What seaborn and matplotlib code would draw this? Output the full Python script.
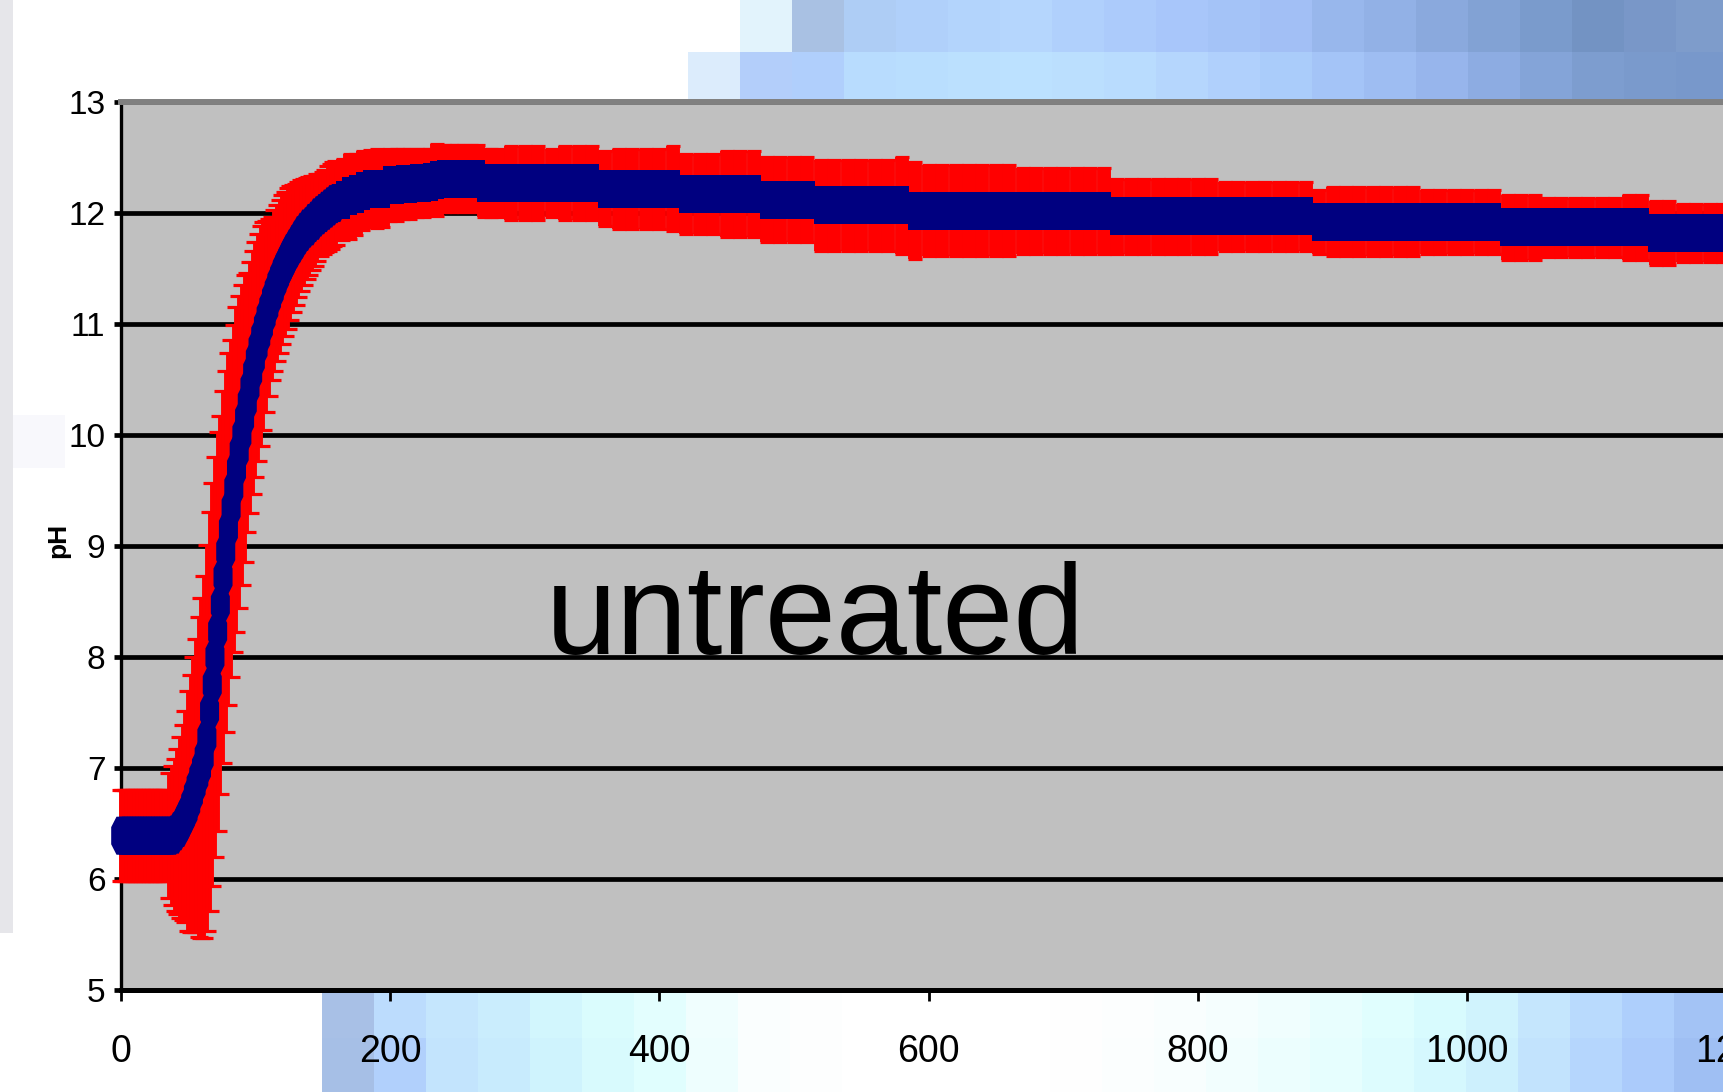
import numpy as np
import pandas as pd
import matplotlib
matplotlib.use("Agg")
import matplotlib.pyplot as plt
import matplotlib.colors as mcolors
from matplotlib.markers import MarkerStyle
from matplotlib.path import Path
from matplotlib.patches import Rectangle
import seaborn as sns

# ---------------- data ----------------
t_rise = list(range(0, 162, 2))
ph_rise = [6.39, 6.39, 6.39, 6.39, 6.39, 6.39, 6.39, 6.39, 6.39, 6.39,
           6.39, 6.39, 6.39, 6.39, 6.39, 6.39, 6.39, 6.39,
           6.39, 6.39, 6.40, 6.43, 6.46, 6.51, 6.56, 6.61, 6.68, 6.76,
           6.84, 6.92, 7.00, 7.10, 7.27, 7.51, 7.75, 8.00, 8.23, 8.47,
           8.72, 8.95, 9.15, 9.34, 9.52, 9.69, 9.85, 10.00, 10.15, 10.29,
           10.43, 10.56, 10.68, 10.79, 10.89, 10.98, 11.07, 11.15, 11.23, 11.30,
           11.37, 11.43, 11.49, 11.54, 11.59, 11.64, 11.68, 11.72, 11.76, 11.80,
           11.83, 11.86, 11.88, 11.91, 11.93, 11.96, 11.98, 12.00, 12.02, 12.04,
           12.06, 12.08, 12.09]
sd_rise = [0.41, 0.41, 0.41, 0.41, 0.41, 0.41, 0.41, 0.41, 0.41, 0.41,
           0.41, 0.41, 0.41, 0.41, 0.41, 0.41, 0.41, 0.41,
           0.565, 0.625, 0.685, 0.745, 0.815, 0.88, 0.95, 1.08, 1.16, 1.24,
           1.32, 1.44, 1.53, 1.63, 1.74, 1.80, 1.815, 1.805, 1.80, 1.70,
           1.675, 1.63, 1.585, 1.52, 1.475, 1.465, 1.405, 1.355, 1.295, 1.165,
           1.13, 1.095, 1.06, 1.025, 0.99, 0.935, 0.86, 0.795, 0.735, 0.725,
           0.705, 0.69, 0.67, 0.65, 0.635, 0.605, 0.575, 0.545, 0.52, 0.50,
           0.475, 0.455, 0.44, 0.42, 0.405, 0.39, 0.37, 0.37, 0.37, 0.38,
           0.385, 0.38, 0.375]

t_plat = list(range(165, 285, 5)) + list(range(290, 1210, 10))
ph_plat = [12.12, 12.15, 12.17, 12.20, 12.22, 12.22, 12.22, 12.25, 12.25, 12.26,
           12.26, 12.27, 12.27, 12.28, 12.30, 12.31, 12.31, 12.31, 12.31, 12.31,
           12.31, 12.27, 12.27, 12.27,
           12.27, 12.27, 12.27, 12.27, 12.27, 12.27, 12.27,
           12.22, 12.22, 12.22, 12.22, 12.22, 12.22,
           12.17, 12.17, 12.17, 12.17, 12.17, 12.17,
           12.12, 12.12, 12.12, 12.12,
           12.07, 12.07, 12.07, 12.07, 12.07, 12.07, 12.07,
           12.02, 12.02, 12.02, 12.02, 12.02, 12.02, 12.02, 12.02, 12.02, 12.02,
           12.02, 12.02, 12.02, 12.02, 12.02,
           11.97, 11.97, 11.97, 11.97, 11.97, 11.97, 11.97, 11.97, 11.97, 11.97,
           11.97, 11.97, 11.97, 11.97, 11.97,
           11.92, 11.92, 11.92, 11.92, 11.92, 11.92, 11.92, 11.92, 11.92, 11.92,
           11.92, 11.92, 11.92, 11.92,
           11.87, 11.87, 11.87, 11.87, 11.87, 11.87, 11.87, 11.87, 11.87, 11.87,
           11.87,
           11.82, 11.82, 11.82, 11.82, 11.82, 11.82, 11.82]
sd_plat = [0.365, 0.38, 0.365, 0.355, 0.345, 0.355, 0.345, 0.325, 0.325, 0.315,
           0.315, 0.305, 0.305, 0.295, 0.325, 0.305, 0.305, 0.305, 0.305, 0.305,
           0.305, 0.305, 0.305, 0.305,
           0.335, 0.335, 0.335, 0.31, 0.335, 0.335, 0.335,
           0.335, 0.36, 0.36, 0.36, 0.36, 0.385,
           0.36, 0.36, 0.36, 0.385, 0.385, 0.385,
           0.385, 0.385, 0.385, 0.385,
           0.41, 0.41, 0.41, 0.41, 0.41, 0.41, 0.435,
           0.435, 0.41, 0.41, 0.41, 0.41, 0.41, 0.41, 0.41, 0.385, 0.385,
           0.385, 0.385, 0.385, 0.385, 0.385,
           0.335, 0.335, 0.335, 0.335, 0.335, 0.335, 0.335, 0.335, 0.31, 0.31,
           0.31, 0.31, 0.31, 0.31, 0.31,
           0.285, 0.31, 0.31, 0.31, 0.31, 0.31, 0.31, 0.31, 0.29, 0.29,
           0.29, 0.29, 0.29, 0.29,
           0.29, 0.29, 0.29, 0.265, 0.265, 0.265, 0.265, 0.265, 0.265, 0.29,
           0.29,
           0.29, 0.29, 0.265, 0.265, 0.265, 0.265, 0.265]

x_ticks = [0, 200, 400, 600, 800, 1000, 1200]
y_ticks = [5, 6, 7, 8, 9, 10, 11, 12, 13]
annotation = "untreated"
y_title = "pH"

# decorative slide-background tiles
top_row1 = ["#ffffff", "#e2f3fc", "#a9c1e3", "#aecdf5", "#b0d0fa", "#b3d4fc", "#b5d6fd",
            "#b0d0fc", "#accbfb", "#a8c6fa", "#a4c3f7", "#a2bff5", "#98b7ec", "#92b1e6",
            "#8aa9dd", "#82a2d4", "#7a9bcc", "#7393c3", "#7997c8", "#7e9ccb"]
top_row2 = ["#dcecfc", "#b3cefa", "#b0cffc", "#b8dcfe", "#b9defe", "#bbe0fe", "#bce1ff",
            "#bbdffe", "#b9dcfe", "#b5d6fd", "#b0d0fc", "#aaccfa", "#a4c4f7", "#9ebdf2",
            "#97b5ec", "#8dace2", "#84a4d8", "#7d9dcf", "#7a9acc", "#7898cb"]
bot_row1 = ["#a8c0e6", "#bcdcfd", "#c5e6fd", "#caedfd", "#d2f6fd", "#dafcfd", "#e3fefe",
            "#f0fefe", "#fafefe", "#fdfefe", "#ffffff", "#ffffff", "#ffffff", "#ffffff",
            "#fefefe", "#fcfefe", "#f9fefe", "#f5fefe", "#f0fefe", "#e8fefe", "#e0fefe",
            "#d8fbfe", "#d0f3fd", "#c5e6fd", "#b9dafd", "#aecffc", "#a3c3f5"]
bot_row2 = ["#a6bfe6", "#b1d0fc", "#c3e4fd", "#c8ebfd", "#cff3fd", "#d8fafd", "#e0fefe",
            "#eefefe", "#fafefe", "#fdfefe", "#ffffff", "#ffffff", "#ffffff", "#ffffff",
            "#fefefe", "#fbfefe", "#f8fefe", "#f2fefe", "#ecfefe", "#e6fefe", "#ddfcfe",
            "#d5f8fe", "#cdf0fd", "#c2e3fd", "#b5d6fd", "#abcbfb", "#9fbff3"]

# ---------------- styling ----------------
sns.set_theme(style="white")
plt.rcParams["font.family"] = ["Liberation Sans", "DejaVu Sans"]
NARROW = ["Liberation Sans Narrow", "Liberation Sans", "DejaVu Sans"]

W, H = 1723, 1092
fig = plt.figure(figsize=(W / 100, H / 100), dpi=100, facecolor="white")

# background layer (pixel coordinates)
bg = fig.add_axes([0, 0, 1, 1], zorder=-10)
bg.axis("off")


def tile_row(colors, x0, y0, y1, cw=52):
    rgba = np.array([[mcolors.to_rgba(c) for c in colors]])
    bg.imshow(rgba, extent=(x0, x0 + cw * len(colors), y1, y0),
              interpolation="nearest", aspect="auto")


tile_row(top_row1, 688, 0, 52)
tile_row(top_row2, 688, 52, 99)
tile_row(bot_row1, 322, 990, 1038)
tile_row(bot_row2, 322, 1038, 1092)
bg.add_patch(Rectangle((0, 0), 13, 933, color="#e6e6ea", lw=0))
bg.add_patch(Rectangle((13, 415), 52, 53, color="#f8f8fc", lw=0))
bg.set_xlim(0, W)
bg.set_ylim(H, 0)

# main plot area
ax = fig.add_axes([120.7 / W, (H - 990) / H, 1615.8 / W, 888 / H], zorder=1)
ax.set_facecolor("#C0C0C0")

rise = pd.DataFrame({"t": t_rise, "ph": ph_rise, "sd": sd_rise})
plat = pd.DataFrame({"t": t_plat, "ph": ph_plat, "sd": sd_plat})
allpts = pd.concat([rise, plat], ignore_index=True)

# red error bars
ax.errorbar(rise["t"], rise["ph"], yerr=rise["sd"], fmt="none", ecolor="#FF0000",
            elinewidth=2.8, capsize=6.2, capthick=2.3, zorder=3, clip_on=False)
ax.errorbar(plat["t"], plat["ph"], yerr=plat["sd"], fmt="none", ecolor="#FF0000",
            elinewidth=10, capsize=4.9, capthick=2.3, zorder=3, clip_on=False)

# navy line + markers
sns.lineplot(data=allpts, x="t", y="ph", color="#000080", lw=3, ax=ax,
             estimator=None, sort=False, zorder=4)
octa = MarkerStyle(Path([(-0.22, 1), (0.22, 1), (0.5, 0.45), (0.5, -0.45), (0.22, -1),
                         (-0.22, -1), (-0.5, -0.45), (-0.5, 0.45), (-0.22, 1)],
                        closed=True))
rect = MarkerStyle(Path([(-0.38, -1), (0.38, -1), (0.38, 1), (-0.38, 1), (-0.38, -1)],
                        closed=True))
sns.scatterplot(data=rise, x="t", y="ph", marker=octa, s=27.4 ** 2, color="#000080",
                linewidth=0, edgecolor="none", ax=ax, zorder=5, clip_on=False)
sns.scatterplot(data=plat, x="t", y="ph", marker=rect, s=27.4 ** 2, color="#000080",
                linewidth=0, edgecolor="none", ax=ax, zorder=5, clip_on=False)

ax.text(516, 8.03, annotation, fontsize=92, ha="center", va="baseline",
        color="black", zorder=6)

# axes, grid, ticks
ax.set_xlim(0, 1200)
ax.set_ylim(5, 13)
ax.set_xticks(x_ticks)
ax.set_yticks(y_ticks)
ax.set_xticklabels([str(v) for v in x_ticks])
ax.set_yticklabels([str(v) for v in y_ticks])
ax.set_xlabel("")
ax.set_ylabel("")
ax.set_axisbelow(True)
ax.yaxis.grid(True, color="black", lw=3.4)
ax.xaxis.grid(False)
ax.tick_params(axis="y", direction="out", length=5, width=3.4, color="black",
               pad=6, labelsize=24, left=True, labelcolor="black")
ax.tick_params(axis="x", direction="out", length=8, width=2, color="black",
               pad=24, labelsize=27, bottom=True, labelcolor="black")
for lbl in ax.get_xticklabels() + ax.get_yticklabels():
    lbl.set_family(NARROW)

ax.spines["left"].set_color("black")
ax.spines["left"].set_linewidth(2.4)
ax.spines["bottom"].set_color("black")
ax.spines["bottom"].set_linewidth(3.6)
ax.spines["top"].set_color("#808080")
ax.spines["top"].set_linewidth(4.3)
ax.spines["right"].set_visible(False)

fig.text(58 / W, 1 - 540 / H, y_title, rotation=90, fontsize=19, fontweight="bold",
         ha="center", va="center", color="black")

fig.savefig("out.png", dpi=100, facecolor="white")
